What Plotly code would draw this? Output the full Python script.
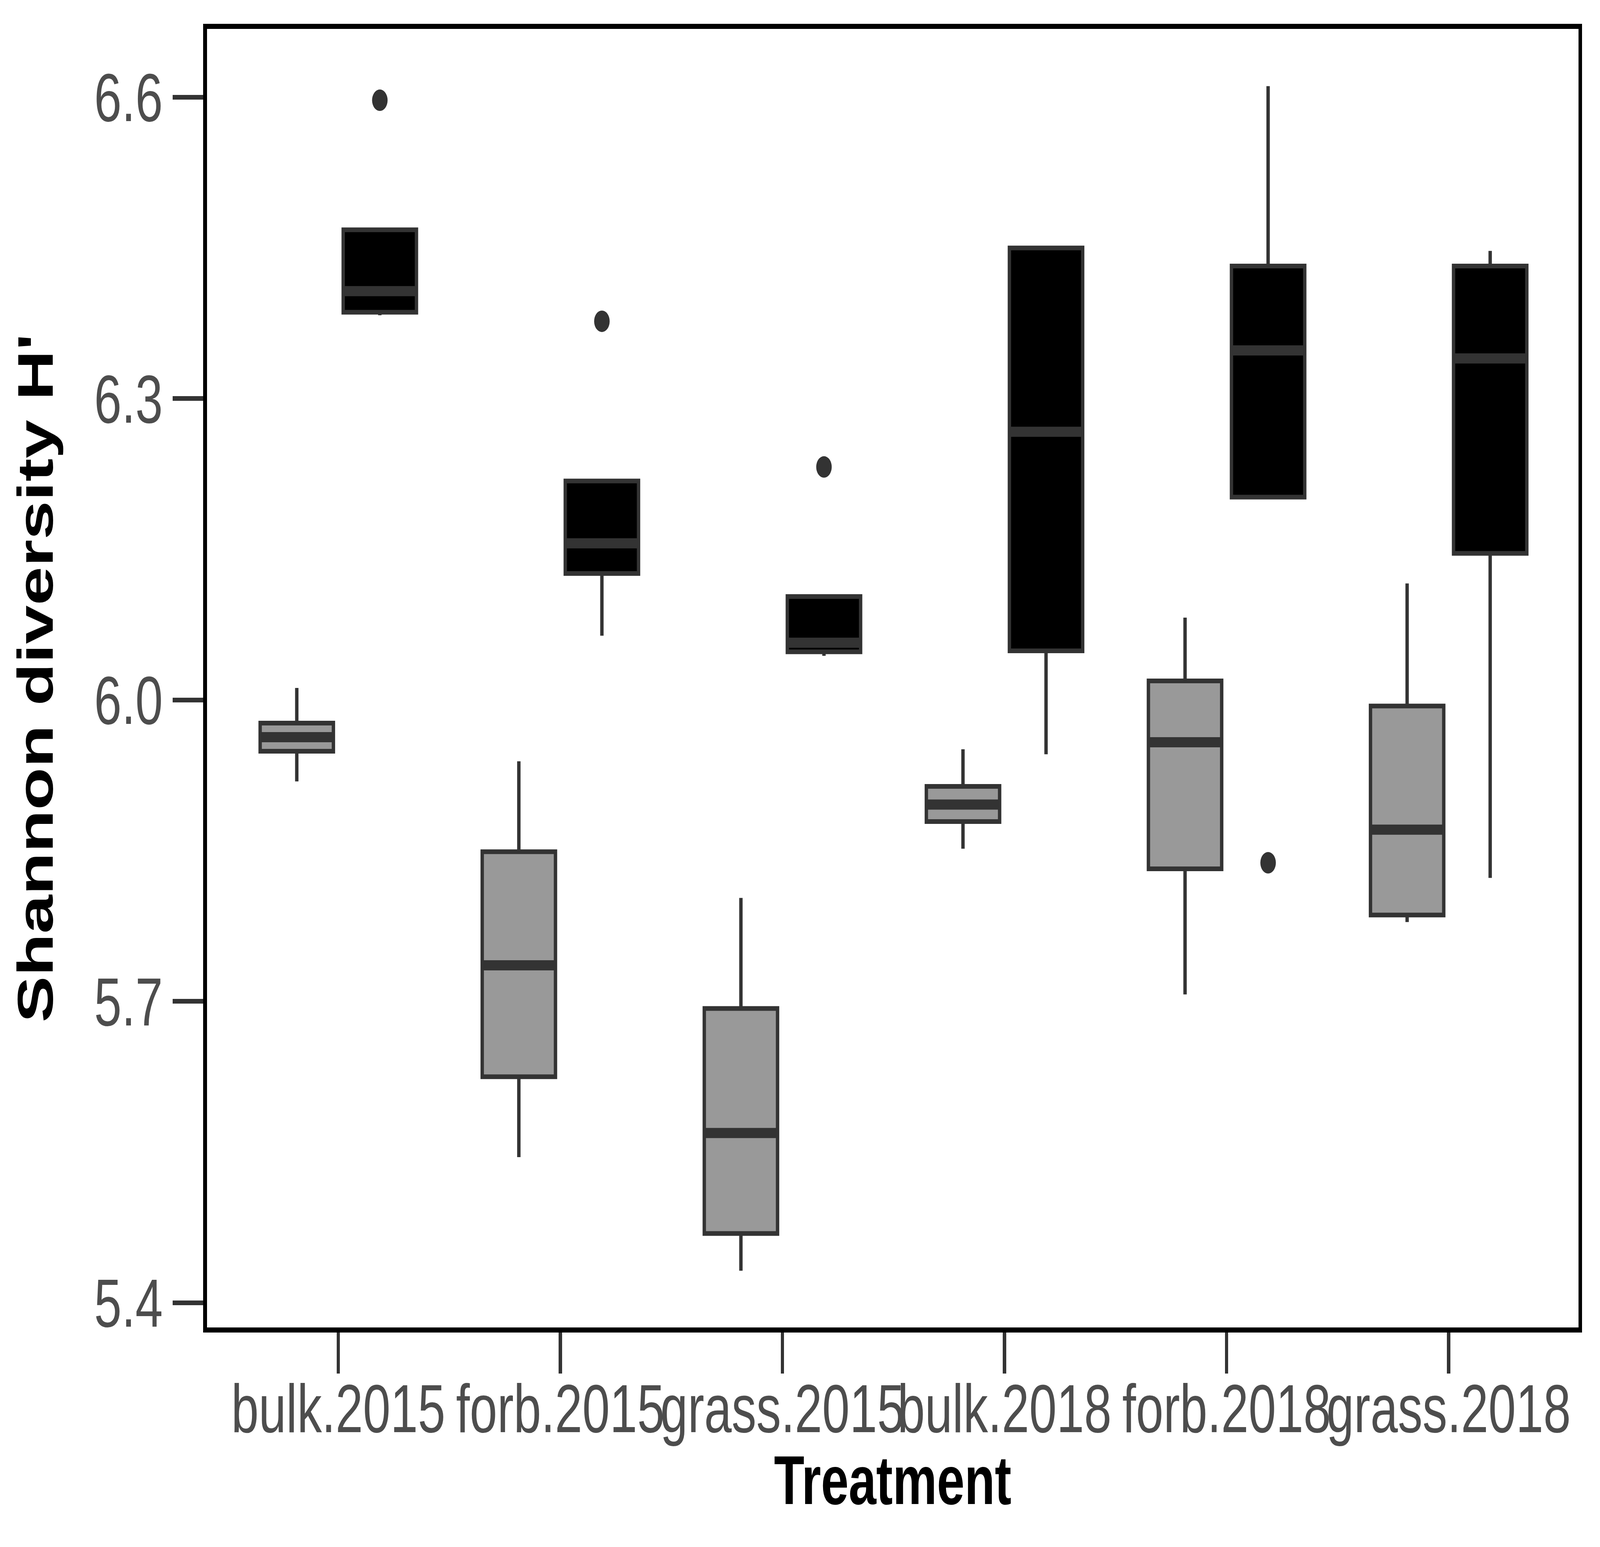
import plotly.graph_objects as go

# treatments on the x axis
categories = ["bulk.2015", "forb.2015", "grass.2015", "bulk.2018", "forb.2018", "grass.2018"]

# grey boxes (five-number summaries)
grey_lower = [5.919, 5.545, 5.432, 5.852, 5.707, 5.779]
grey_q1 = [5.949, 5.625, 5.469, 5.879, 5.832, 5.786]
grey_median = [5.963, 5.736, 5.569, 5.896, 5.958, 5.871]
grey_q3 = [5.977, 5.849, 5.693, 5.914, 6.019, 5.994]
grey_upper = [6.012, 5.939, 5.803, 5.951, 6.082, 6.116]

# black boxes
black_lower = [6.383, 6.064, 6.044, 5.946, 6.202, 5.823]
black_q1 = [6.386, 6.126, 6.048, 6.049, 6.202, 6.146]
black_median = [6.407, 6.156, 6.057, 6.267, 6.348, 6.340]
black_q3 = [6.468, 6.218, 6.103, 6.450, 6.432, 6.432]
black_upper = [6.468, 6.218, 6.103, 6.450, 6.611, 6.447]

# outliers of the black boxes
black_outlier_cat = ["bulk.2015", "forb.2015", "grass.2015", "forb.2018"]
black_outlier_val = [6.597, 6.377, 6.232, 5.838]

y_ticks = [5.4, 5.7, 6.0, 6.3, 6.6]

W, H = 5670, 3960
DODGE = 0.187
BOX_W = 0.33
EDGE = "#333333"
FONT = "Liberation Sans"

idx = {c: i for i, c in enumerate(categories)}
grey_pos = [i - DODGE for i in range(len(categories))]
black_pos = [i + DODGE for i in range(len(categories))]


def median_segments(pos, med):
    xs, ys = [], []
    for p, m in zip(pos, med):
        xs += [p - BOX_W / 2, p + BOX_W / 2, None]
        ys += [m, m, None]
    return xs, ys


fig = go.Figure()

for pos, lo, q1, md, q3, up, fill in [
    (grey_pos, grey_lower, grey_q1, grey_median, grey_q3, grey_upper, "#999999"),
    (black_pos, black_lower, black_q1, black_median, black_q3, black_upper, "#000000"),
]:
    fig.add_trace(go.Box(x=pos, q1=q1, median=md, q3=q3,
                         lowerfence=lo, upperfence=up,
                         width=BOX_W, whiskerwidth=0,
                         fillcolor=fill,
                         line=dict(color=EDGE, width=12),
                         boxpoints=False, hoverinfo="skip"))
    mx, my = median_segments(pos, md)
    fig.add_trace(go.Scatter(x=mx, y=my, mode="lines",
                             line=dict(color=EDGE, width=26),
                             hoverinfo="skip"))

fig.add_trace(go.Scatter(x=[idx[c] + DODGE for c in black_outlier_cat],
                         y=black_outlier_val, mode="markers",
                         marker=dict(color=EDGE, size=55, line=dict(width=0)),
                         hoverinfo="skip"))

fig.update_layout(
    width=W, height=H,
    margin=dict(l=733, r=76, t=74, b=562, autoexpand=False),
    paper_bgcolor="white", plot_bgcolor="white",
    showlegend=False,
    font=dict(family=FONT),
    annotations=[
        dict(text="Treatment", xref="paper", yref="paper", x=0.5, y=-0.1175,
             xanchor="center", yanchor="middle", showarrow=False,
             font=dict(family=FONT, size=176, color="black", weight="bold")),
        dict(text="Shannon diversity H'", xref="paper", yref="paper",
             x=-0.1252, y=0.5, textangle=-90,
             xanchor="center", yanchor="middle", showarrow=False,
             font=dict(family=FONT, size=178, color="black", weight="bold")),
    ],
)

fig.update_xaxes(range=[-0.592, 5.585], tickvals=list(range(len(categories))),
                 ticktext=categories, tickangle=0, automargin=False,
                 ticks="outside", ticklen=105, tickwidth=12, ticklabelstandoff=-60,
                 tickcolor=EDGE, tickfont=dict(family=FONT, size=175, color="#4d4d4d"),
                 showline=True, linecolor="black", linewidth=13, mirror=True,
                 showgrid=False, zeroline=False)
fig.update_yaxes(range=[5.3755, 6.668], tickvals=y_ticks, tickformat=".1f",
                 automargin=False,
                 ticks="outside", ticklen=108, tickwidth=12, tickcolor=EDGE,
                 tickfont=dict(family=FONT, size=175, color="#4d4d4d"),
                 showline=True, linecolor="black", linewidth=13, mirror=True,
                 showgrid=False, zeroline=False)

# fit the fixed-size figure into whatever window the page is opened in
fit_js = """
var gd = document.getElementById('{plot_id}');
document.documentElement.style.overflow = 'hidden';
document.body.style.overflow = 'hidden';
document.body.style.margin = '0';
var sx = document.documentElement.clientWidth / %d;
var sy = document.documentElement.clientHeight / %d;
gd.style.transformOrigin = '0 0';
gd.style.transform = 'scale(' + sx + ',' + sy + ')';
""" % (W, H)

fig.write_html("out.html", post_script=fit_js,
               config={"displayModeBar": False, "staticPlot": True})
